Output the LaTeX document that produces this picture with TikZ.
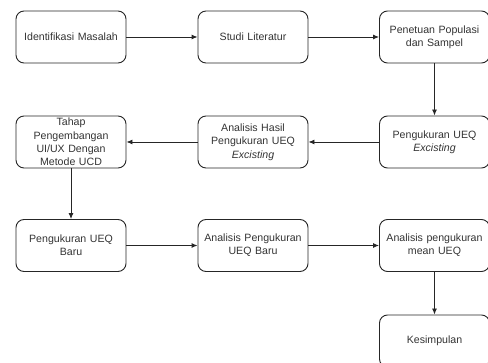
\documentclass[tikz,border=0pt]{standalone}
\usepackage{fontspec}
\setmainfont{Liberation Sans}
\usetikzlibrary{arrows,arrows.meta,positioning,calc}
\tikzset{>=latex}
\definecolor{edge}{HTML}{262626}
\definecolor{words}{HTML}{333333}
\tikzset{
	stepnode/.style={draw=edge, line width=0.9pt, rounded corners=8pt, minimum width=110pt, minimum height=52pt,
		align=center, text width=104pt, text=words, font=\fontsize{10.6pt}{13.3pt}\selectfont, inner sep=0pt},
	flow/.style={-{Latex[length=6pt,width=5pt]}, edge, line width=0.9pt}
}
\begin{document}
\begin{tikzpicture}[x=1pt,y=-1pt]
		\useasboundingbox (0,0) rectangle (488,363);
		\clip (0,0) rectangle (488,363);
		\node[stepnode] (ident) at (71,37) {Identifikasi Masalah};
		\node[stepnode] (studi) at (253,37) {Studi Literatur};
		\node[stepnode] (populasi) at (434.5,37) {Penetuan Populasi\\dan Sampel};
		\node[stepnode] (ukur) at (434.5,142) {Pengukuran UEQ\\\textit{Excisting}};
		\node[stepnode] (hasil) at (253,142) {Analisis Hasil\\Pengukuran UEQ\\\textit{Excisting}};
		\node[stepnode] (tahap) at (71,142) {Tahap\\Pengembangan\\UI/UX Dengan\\Metode UCD};
		\node[stepnode] (baru) at (71,245.5) {Pengukuran UEQ\\Baru};
		\node[stepnode] (anbaru) at (253,245.5) {Analisis Pengukuran\\UEQ Baru};
		\node[stepnode] (mean) at (434.5,245.5) {Analisis pengukuran\\mean UEQ};
		\node[stepnode] (simpul) at (434.5,341) {Kesimpulan};
		\draw[flow] (ident) -- (studi);
		\draw[flow] (studi) -- (populasi);
		\draw[flow] (populasi) -- (ukur);
		\draw[flow] (ukur) -- (hasil);
		\draw[flow] (hasil) -- (tahap);
		\draw[flow] (tahap) -- (baru);
		\draw[flow] (baru) -- (anbaru);
		\draw[flow] (anbaru) -- (mean);
		\draw[flow] (mean) -- (simpul);
	\end{tikzpicture}
\end{document}
